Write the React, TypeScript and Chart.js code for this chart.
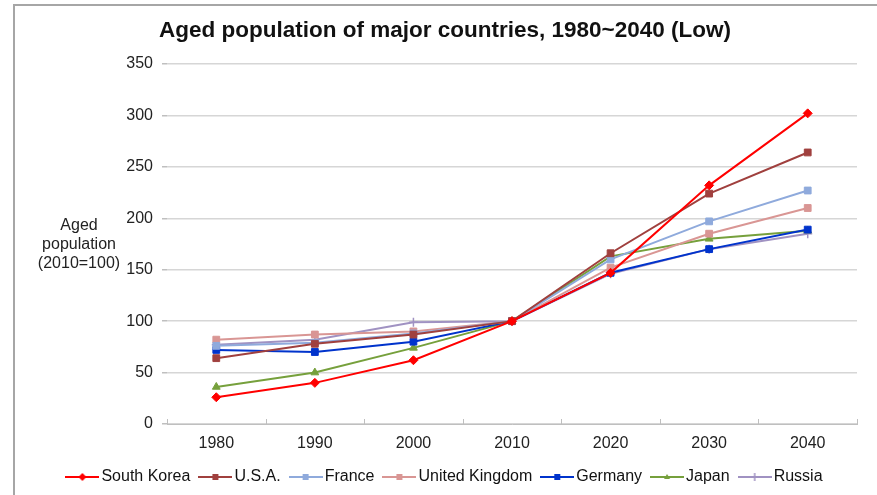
import React, { useEffect, useRef } from "react";
import { Chart, registerables } from "chart.js";

Chart.register(...registerables);

const years = ["1980", "1990", "2000", "2010", "2020", "2030", "2040"];
const southKorea = [26, 40, 62, 100, 147, 232, 302];
const usa = [64, 78, 87, 100, 166, 224, 264];
const france = [76, 79, 88, 100, 160, 197, 227];
const uk = [82, 87, 90, 100, 152, 185, 210];
const germany = [72, 70, 80, 100, 147, 170, 189];
const japan = [36, 50, 74, 100, 163, 180, 188];
const russia = [77, 82, 99, 100, 146, 170, 185];

const titleText = "Aged population of major countries, 1980~2040 (Low)";
const yTitleLines = ["Aged", "population", "(2010=100)"];

const FONT = "'Liberation Sans', Arial, sans-serif";

type SeriesDef = { label: string; data: number[]; color: string; style: string; radius: number };

const series: SeriesDef[] = [
  { label: "South Korea", data: southKorea, color: "#FF0000", style: "rectRot", radius: 4.5 },
  { label: "U.S.A.", data: usa, color: "#A0403E", style: "rect", radius: 4.8 },
  { label: "France", data: france, color: "#8FAADC", style: "rect", radius: 4.8 },
  { label: "United Kingdom", data: uk, color: "#D99694", style: "rect", radius: 4.8 },
  { label: "Germany", data: germany, color: "#0033CC", style: "rect", radius: 4.8 },
  { label: "Japan", data: japan, color: "#76A03C", style: "triangle", radius: 4.5 },
  { label: "Russia", data: russia, color: "#A092C2", style: "cross", radius: 4.5 },
];

const LEG_W = 34;

function legendImage(color: string, style: string): HTMLCanvasElement {
  const c = document.createElement("canvas");
  c.width = LEG_W;
  c.height = 10;
  const ctx = c.getContext("2d")!;
  ctx.strokeStyle = color;
  ctx.fillStyle = color;
  ctx.lineWidth = 2;
  ctx.beginPath();
  ctx.moveTo(0, 5);
  ctx.lineTo(LEG_W, 5);
  ctx.stroke();
  const cx = LEG_W / 2, cy = 5;
  if (style === "rectRot") {
    ctx.beginPath();
    ctx.moveTo(cx, cy - 4);
    ctx.lineTo(cx + 4, cy);
    ctx.lineTo(cx, cy + 4);
    ctx.lineTo(cx - 4, cy);
    ctx.closePath();
    ctx.fill();
  } else if (style === "rect") {
    ctx.fillRect(cx - 3, cy - 3, 6, 6);
  } else if (style === "triangle") {
    ctx.beginPath();
    ctx.moveTo(cx, cy - 3);
    ctx.lineTo(cx + 3, cy + 2);
    ctx.lineTo(cx - 3, cy + 2);
    ctx.closePath();
    ctx.fill();
  } else if (style === "cross") {
    ctx.lineWidth = 1.5;
    ctx.beginPath();
    ctx.moveTo(cx, cy - 4);
    ctx.lineTo(cx, cy + 4);
    ctx.stroke();
  }
  return c;
}

const decorPlugin = {
  id: "decor",
  afterDraw(chart: any) {
    const { ctx, chartArea } = chart;
    ctx.save();
    // title
    ctx.font = `bold 22.5px ${FONT}`;
    ctx.fillStyle = "#111";
    ctx.textAlign = "center";
    ctx.textBaseline = "middle";
    ctx.fillText(titleText, 445, 31);
    // y-axis title, horizontal
    ctx.font = `16px ${FONT}`;
    ctx.fillStyle = "#222";
    yTitleLines.forEach((t, i) => ctx.fillText(t, 79, 226 + i * 19));
    // inward category tick marks on x axis
    const n = years.length;
    const w = (chartArea.right - chartArea.left) / n;
    ctx.strokeStyle = "#BFBFBF";
    ctx.lineWidth = 1;
    for (let i = 0; i <= n; i++) {
      const x = Math.round(chartArea.left + i * w) + 0.5;
      ctx.beginPath();
      ctx.moveTo(x, chartArea.bottom - 5);
      ctx.lineTo(x, chartArea.bottom);
      ctx.stroke();
    }
    ctx.restore();
  },
};

export default function App() {
  const ref = useRef<HTMLCanvasElement>(null);
  useEffect(() => {
    if (!ref.current) return;
    const chart = new Chart(ref.current, {
      type: "line",
      data: {
        labels: years,
        datasets: series.map((s) => ({
          label: s.label,
          data: s.data,
          borderColor: s.color,
          backgroundColor: s.color,
          borderWidth: 2,
          pointStyle: s.style as any,
          pointRadius: s.radius,
          pointBorderWidth: s.style === "cross" ? 1.5 : 1,
          pointBorderColor: s.color,
          pointBackgroundColor: s.color,
          tension: 0,
          fill: false,
        })),
      },
      options: {
        animation: false,
        responsive: false,
        devicePixelRatio: 1,
        layout: { padding: { left: 37, right: 20, top: 64, bottom: 0 } },
        plugins: {
          title: { display: false },
          legend: {
            position: "bottom",
            labels: {
              usePointStyle: true,
              pointStyleWidth: LEG_W - 12,
              color: "#111",
              font: { family: FONT, size: 16 },
              padding: 14,
              generateLabels: (ch: any) =>
                series.map((s, i) => ({
                  text: s.label,
                  datasetIndex: i,
                  pointStyle: legendImage(s.color, s.style),
                  fillStyle: s.color,
                  strokeStyle: s.color,
                  lineWidth: 0,
                  hidden: !ch.isDatasetVisible(i),
                  fontColor: "#111",
                })),
            },
          },
          tooltip: { enabled: false },
        },
        scales: {
          x: {
            offset: true,
            grid: { display: false, drawTicks: false },
            border: { display: true, color: "#BFBFBF", width: 1 },
            ticks: { color: "#222", font: { family: FONT, size: 16 }, padding: 10 },
            afterFit: (s: any) => {
              s.height = 31;
            },
          },
          y: {
            min: 0,
            max: 350,
            ticks: { stepSize: 50, color: "#222", font: { family: FONT, size: 16 }, padding: 9 },
            grid: { color: "#D6D6D6", lineWidth: 1.5, drawTicks: true, tickLength: 5, tickColor: "#BFBFBF" },
            border: { display: false },
            afterFit: (s: any) => {
              s.width = 130;
            },
          },
        },
      },
      plugins: [decorPlugin],
    } as any);
    return () => chart.destroy();
  }, []);

  return (
    <div style={{ position: "absolute", left: 0, top: 0, width: 877, height: 495, background: "#fff", overflow: "hidden" }}>
      <canvas ref={ref} width={877} height={495} style={{ position: "absolute", left: 0, top: 0, width: 877, height: 495 }} />
      <div
        style={{
          position: "absolute",
          left: 13,
          top: 4,
          width: 877 - 13 - 2,
          height: 495 - 4,
          borderLeft: "2px solid #A6A6A6",
          borderTop: "2px solid #A6A6A6",
          borderRight: "1px solid #DCE8F4",
          pointerEvents: "none",
        }}
      />
    </div>
  );
}
